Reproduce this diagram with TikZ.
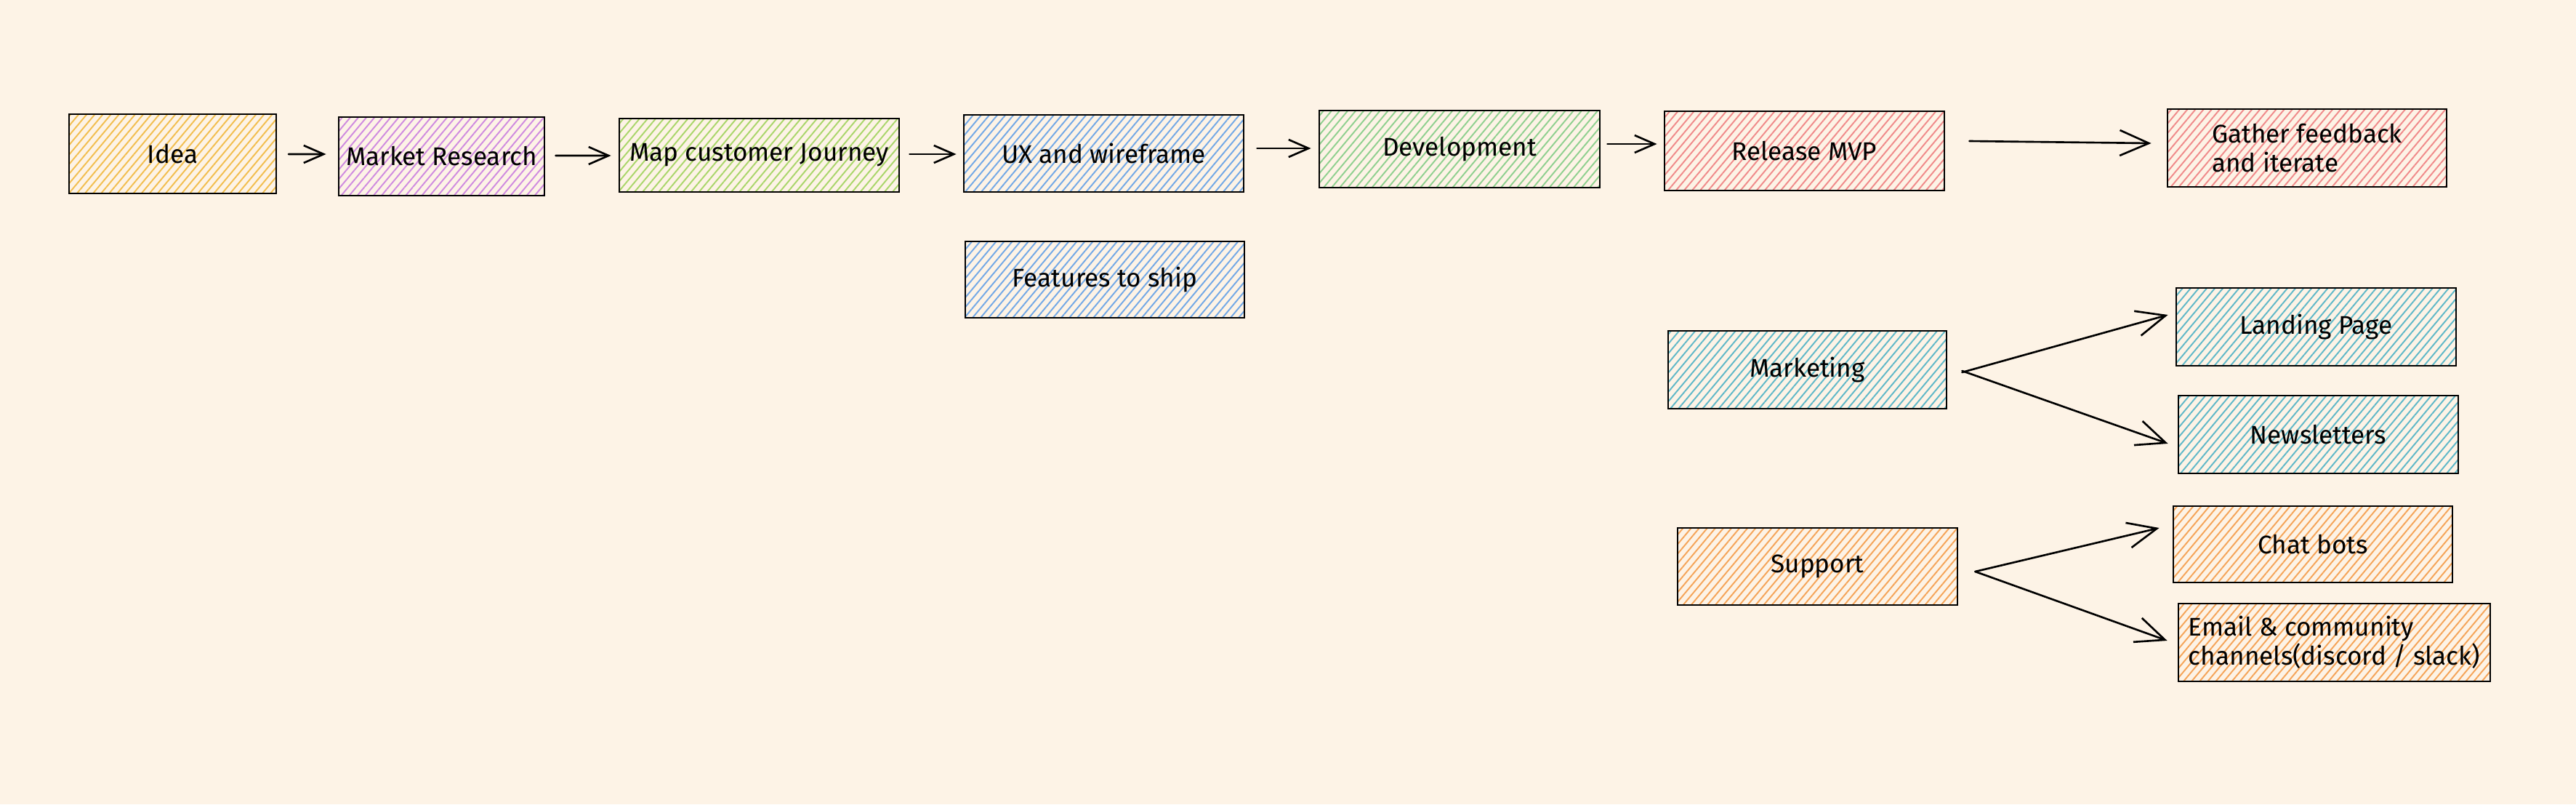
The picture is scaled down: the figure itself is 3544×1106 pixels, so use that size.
\documentclass[tikz,border=0pt]{standalone}
\usepackage{fontspec}
\setmainfont{Fira Sans}
\usetikzlibrary{arrows.meta,patterns.meta,calc}
\definecolor{bg}{HTML}{FDF3E6}
\definecolor{cyellow}{HTML}{F2BE4E}
\definecolor{cpurple}{HTML}{CF8BE0}
\definecolor{clime}{HTML}{A9D66A}
\definecolor{cblue}{HTML}{72A8E6}
\definecolor{cgreen}{HTML}{8FD08F}
\definecolor{cred}{HTML}{F08A8A}
\definecolor{cteal}{HTML}{5FB8C8}
\definecolor{corange}{HTML}{F5A458}
\tikzset{
  box/.style={draw=black, line width=1.6pt, inner sep=3pt, align=center,
    font=\fontsize{20pt}{23pt}\selectfont},
  wh/.style 2 args={minimum width=#1*0.02cm, minimum height=#2*0.02cm},
  hatch/.style={pattern={Lines[angle=50,distance=0.17cm,line width=1.1pt]}, pattern color=#1},
  arr/.style={draw=black, line width=1.5pt, line cap=round,
    -{Straight Barb[length=0.8cm, width=0.7cm, line width=1.5pt]}},
  sarr/.style={draw=black, line width=1.5pt, line cap=round,
    -{Straight Barb[length=0.55cm, width=0.48cm, line width=1.5pt]}}
}
\begin{document}
\begin{tikzpicture}[x=0.02cm, y=-0.02cm]
\fill[bg] (0,0) rectangle (3544,1106);
\useasboundingbox (0,0) rectangle (3544,1106);

\node[box, wh={285}{109}, hatch=cyellow] (idea) at (237.5,211.5) {Idea};
\node[box, wh={283}{108}, hatch=cpurple] (mr) at (607.5,215) {Market Research};
\node[box, wh={385}{101}, hatch=clime] (map) at (1044.5,213.5) {Map customer Journey};
\node[box, wh={385}{106}, hatch=cblue] (ux) at (1518.5,211) {UX and wireframe};
\node[box, wh={386}{106}, hatch=cgreen] (dev) at (2008,205) {Development};
\node[box, wh={385}{109}, hatch=cred] (rel) at (2482.5,207.5) {Release MVP};
\node[box, wh={384}{107}, hatch=cred, align=left] (gat) at (3174,203.5) {Gather feedback\\and iterate};
\node[box, wh={384}{105}, hatch=cblue] (feat) at (1520,384.5) {Features to ship};
\node[box, wh={383}{107}, hatch=cteal] (mkt) at (2486.5,508.5) {Marketing};
\node[box, wh={385}{107}, hatch=cteal] (land) at (3186.5,449.5) {Landing Page};
\node[box, wh={385}{107}, hatch=cteal] (news) at (3189.5,597.5) {Newsletters};
\node[box, wh={385}{106}, hatch=corange] (sup) at (2500.5,779) {Support};
\node[box, wh={384}{105}, hatch=corange] (chat) at (3182,748.5) {Chat bots};
\node[box, wh={429}{107}, hatch=corange, align=left] (email) at (3211.5,883.5) {Email \& community\\channels(discord / slack)};

\draw[sarr] ($(idea.east)+(16,0.5)$) -- ($(mr.west)+(-16,-3)$);
\draw[sarr] ($(mr.east)+(14,-1)$) -- ($(map.west)+(-10,0.5)$);
\draw[sarr] ($(map.east)+(13,-1.5)$) -- ($(ux.west)+(-9,1)$);
\draw[sarr] ($(ux.east)+(17,-7)$) -- ($(dev.west)+(-10,-1)$);
\draw[sarr] ($(dev.east)+(9,-7)$) -- ($(rel.west)+(-9,-9.5)$);
\draw[arr] ($(rel.east)+(33,-13.5)$) -- ($(gat.west)+(-21,-6.5)$);
\draw[arr] ($(mkt.east)+(20,3.5)$) -- ($(land.west)+(-10,-16.5)$);
\draw[arr] ($(mkt.east)+(20,1.5)$) -- ($(news.west)+(-13,12.5)$);
\draw[arr] ($(sup.east)+(23,7)$) -- ($(chat.west)+(-18,-22.5)$);
\draw[arr] ($(sup.east)+(23,7)$) -- ($(email.west)+(-14,-2.5)$);
\end{tikzpicture}
\end{document}
